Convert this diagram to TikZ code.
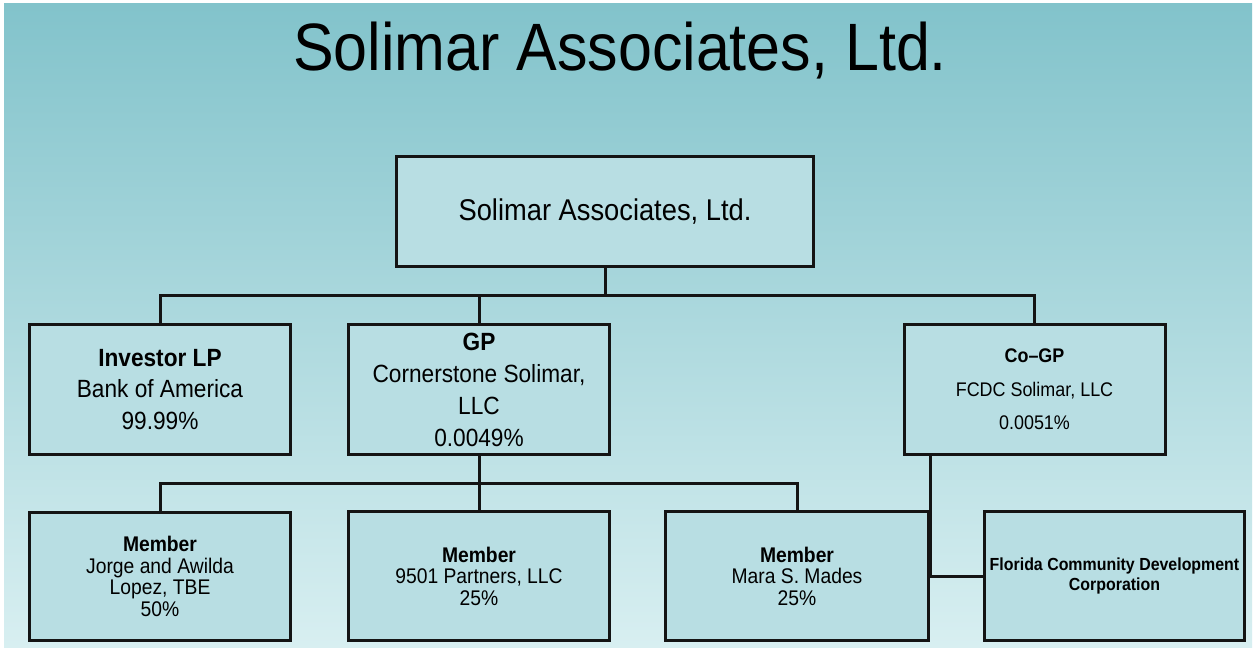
\documentclass[tikz,border=0pt]{standalone}
\usepackage{fontspec}
\setmainfont{Liberation Sans}[FakeStretch=0.91]
\usepackage{xcolor}
\usepackage{tikz}
\usetikzlibrary{positioning, calc}

\definecolor{bgtop}{HTML}{82C3CB}
\definecolor{bgmid}{HTML}{B5DEE2}
\definecolor{bgbot}{HTML}{D8EFF1}
\definecolor{boxfill}{HTML}{B8DEE3}
\definecolor{ink}{HTML}{141414}

\begin{document}
\begin{tikzpicture}[x=1pt, y=-1pt,
    box/.style={draw=ink, line width=3pt, fill=boxfill, align=center, inner sep=2pt},
    wide/.style={minimum width=261pt, minimum height=130pt},
    wire/.style={draw=ink, line width=3pt}]
    % page and shaded backdrop
    \fill[white] (0,0) rectangle (1254,648);
    \shade[top color=bgtop, middle color=bgmid, bottom color=bgbot] (4,3) rectangle (1252,648);
    \useasboundingbox (0,0) rectangle (1254,648);

    \node[anchor=base, font=\fontsize{67}{67}\selectfont] (title) at (620,70) {Solimar Associates, Ltd.};

    % top entity
    \node[box, minimum width=417pt, minimum height=110pt, font=\fontsize{30}{30}\selectfont] (solimar) at (605,211.5) {Solimar Associates, Ltd.};

    % partners
    \node[box, wide, font=\fontsize{24.9}{31.5}\selectfont] (investor) at (160,389.5) {\textbf{Investor LP}\\Bank of America\\99.99\%};
    \node[box, wide, font=\fontsize{24.9}{32}\selectfont] (gp) at (479,389.5) {\textbf{GP}\\Cornerstone Solimar,\\LLC\\0.0049\%};
    \node[box, wide, font=\fontsize{19.7}{33.5}\selectfont] (cogp) at (1034.5,389.5) {\textbf{Co–GP}\\FCDC Solimar, LLC\\0.0051\%};

    % members of the GP
    \node[box, wide, minimum height=128pt, font=\fontsize{21.2}{21.5}\selectfont] (jorge) at (160,576.5) {\textbf{Member}\\Jorge and Awilda\\Lopez, TBE\\50\%};
    \node[box, wide, minimum height=129pt, font=\fontsize{21.2}{21.5}\selectfont] (partners) at (479,576) {\textbf{Member}\\9501 Partners, LLC\\25\%};
    \node[box, minimum width=263pt, minimum height=129pt, font=\fontsize{21.2}{21.5}\selectfont] (mades) at (797,576) {\textbf{Member}\\Mara S. Mades\\25\%};
    \node[box, minimum width=260pt, minimum height=129pt, font=\bfseries\fontsize{17.5}{19.5}\selectfont] (fcdc) at (1114.5,576) {Florida Community Development\\Corporation};

    % connectors
    \coordinate (bus1) at (605,295);
    \coordinate (bus2) at (479,483);
    \draw[wire] (solimar.south) -- (bus1);
    \draw[wire] (investor.north) |- (bus1);
    \draw[wire] (gp.north) |- (bus1);
    \draw[wire] (cogp.north) |- (bus1);
    \draw[wire] (gp.south) -- (partners.north);
    \draw[wire] (jorge.north) |- (bus2);
    \draw[wire] (mades.north) |- (bus2);
    \draw[wire] (cogp.south -| mades.east) |- (fcdc.west);
\end{tikzpicture}
\end{document}
